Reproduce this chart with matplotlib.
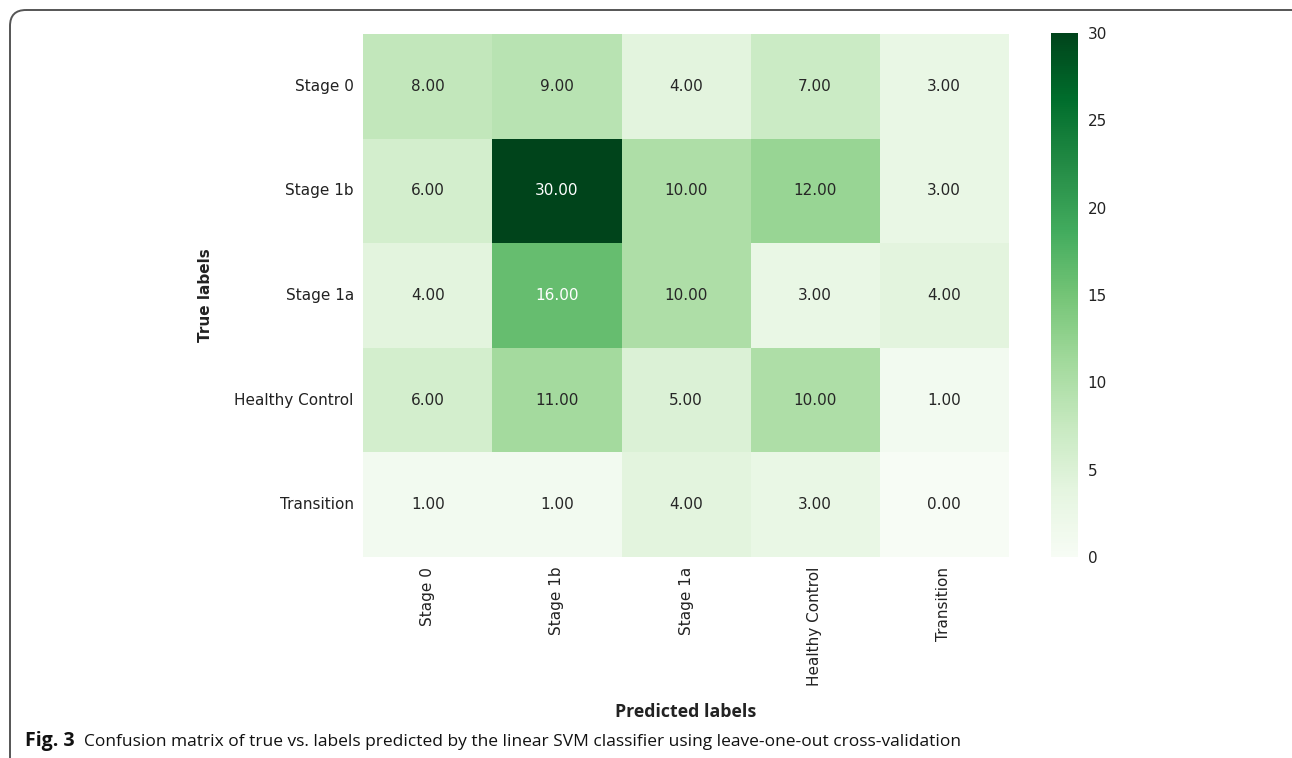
import matplotlib
matplotlib.use("Agg")
import matplotlib.pyplot as plt
from matplotlib.patches import FancyBboxPatch
from matplotlib.transforms import Affine2D
import numpy as np
import seaborn as sns

# Class labels (rows = true, columns = predicted)
true_labels = ["Stage 0", "Stage 1b", "Stage 1a", "Healthy Control", "Transition"]
pred_labels = ["Stage 0", "Stage 1b", "Stage 1a", "Healthy Control", "Transition"]

# Confusion matrix counts
row_stage0 = [8, 9, 4, 7, 3]
row_stage1b = [6, 30, 10, 12, 3]
row_stage1a = [4, 16, 10, 3, 4]
row_healthy = [6, 11, 5, 10, 1]
row_transition = [1, 1, 4, 3, 0]

cbar_ticks = [0, 5, 10, 15, 20, 25, 30]

W, H = 1292, 758
fig = plt.figure(figsize=(W / 100, H / 100), dpi=100)
fig.patch.set_facecolor("white")


def fx(px):
    return px / W


def fy(py):
    return 1 - py / H


# pixel coordinates measured from the top-left corner
pix = Affine2D().scale(1 / W, -1 / H).translate(0, 1) + fig.transFigure

# Rounded panel frame (right and bottom edges run off the page)
frame = FancyBboxPatch((10, 10), 1297, 790,
                       boxstyle="round,pad=0,rounding_size=16",
                       transform=pix, fill=False,
                       edgecolor="#555555", linewidth=1.4, clip_on=False)
fig.patches.append(frame)

ax = fig.add_axes([fx(363.5), fy(557), fx(1008.5) - fx(363.5), fy(34) - fy(557)])
cax = fig.add_axes([fx(1051), fy(557), fx(1078) - fx(1051), fy(33) - fy(557)])

cm = np.array([row_stage0, row_stage1b, row_stage1a, row_healthy, row_transition])

sns.heatmap(cm, ax=ax, cbar_ax=cax, cmap="Greens", vmin=0, vmax=30,
            annot=True, fmt=".2f", annot_kws={"fontsize": 11},
            xticklabels=pred_labels, yticklabels=true_labels,
            cbar_kws={"ticks": cbar_ticks})

ax.tick_params(axis="both", length=0, pad=7, labelsize=11, colors="#222222")
ax.set_xticklabels(pred_labels, rotation=90)
ax.set_yticklabels(true_labels, rotation=0)
ax.set_xlabel("")
ax.set_ylabel("")

cax.tick_params(length=0, pad=7, labelsize=11, colors="#222222")
cax.set_frame_on(False)
for sp in cax.spines.values():
    sp.set_visible(False)

fig.text(fx(205), fy(295), "True labels", rotation=90, fontsize=11,
         fontweight="bold", family="DejaVu Sans", ha="center", va="center",
         color="#222222")
fig.text(fx(686), fy(712), "Predicted labels", fontsize=12.8,
         fontweight="bold", family="Open Sans", ha="center", va="center",
         color="#222222")

# Caption: bold figure number followed by the description on the same baseline
cap = fig.text(fx(25), fy(746), "Fig. 3", fontsize=14, fontweight="bold",
               family="Open Sans", ha="left", va="baseline", color="#111111")
fig.canvas.draw()
cap_right = cap.get_window_extent().x1 / fig.dpi / fig.get_size_inches()[0]
fig.text(cap_right + fx(9), fy(746),
         "Confusion matrix of true vs. labels predicted by the linear SVM "
         "classifier using leave-one-out cross-validation",
         fontsize=12.5, family="Open Sans", ha="left", va="baseline",
         color="#111111")

fig.savefig("out.png", dpi=100, facecolor="white")
